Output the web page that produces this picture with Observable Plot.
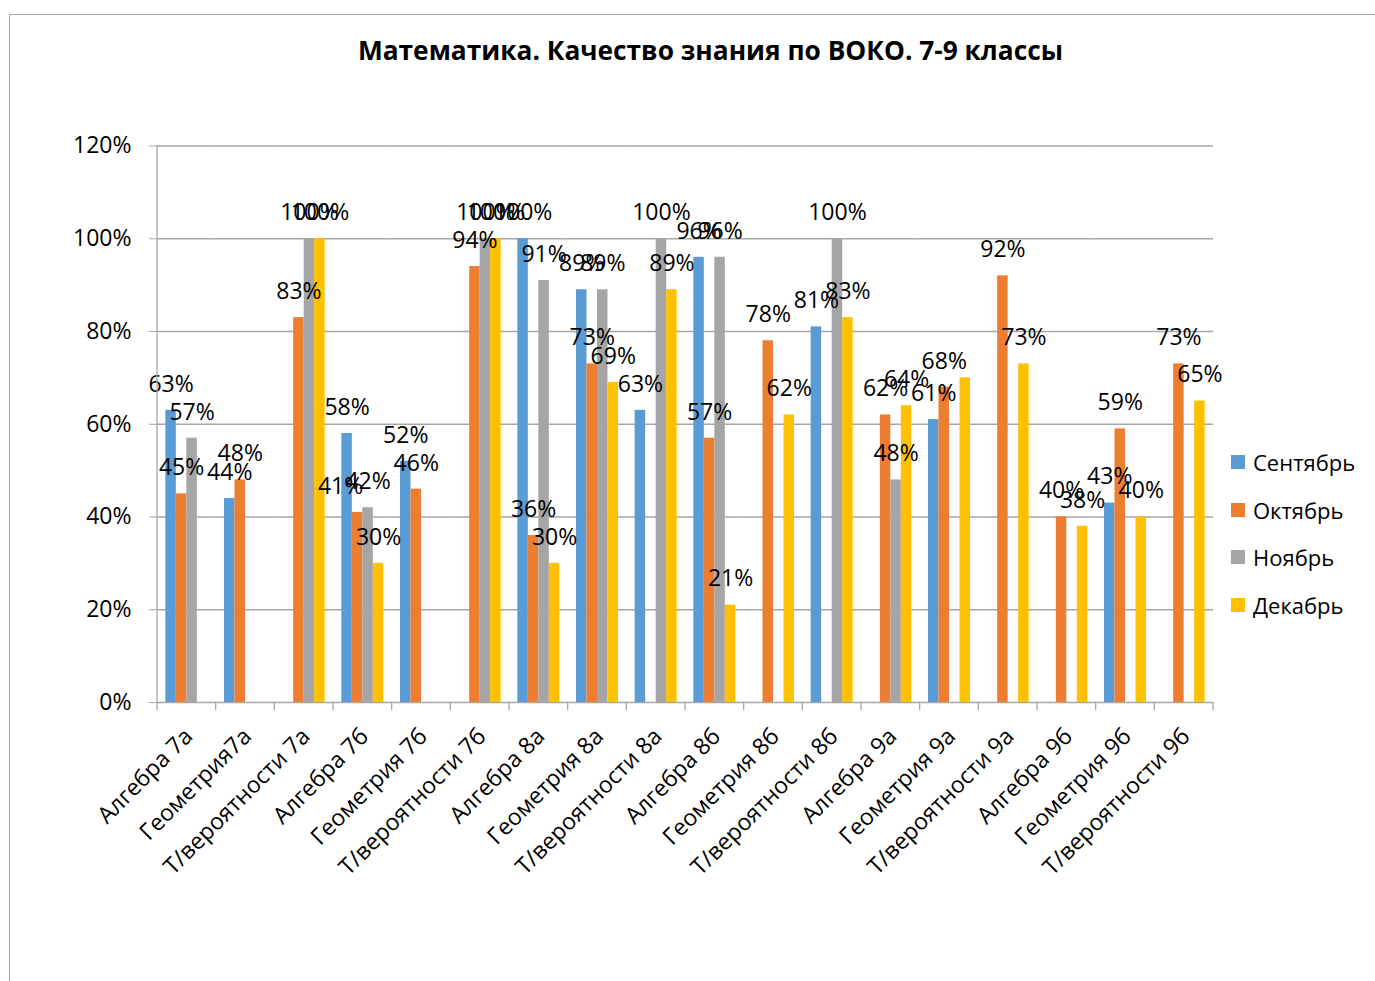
<!DOCTYPE html>
<html><head><meta charset="utf-8">
<script src="https://cdn.jsdelivr.net/npm/d3@7"></script>
<script src="https://cdn.jsdelivr.net/npm/@observablehq/plot@0.6"></script>
<style>
body{margin:0;background:#fff;}
#wrap{position:relative;width:1375px;height:981px;overflow:hidden;font-family:"Open Sans",sans-serif;color:#000;}
#border{position:absolute;left:9px;top:14px;width:1500px;height:1100px;border:1.5px solid #a6a6a6;}
#title{position:absolute;left:0;width:1421px;top:32px;text-align:center;font-weight:bold;font-size:26.3px;line-height:36px;}
#chart{position:absolute;left:0;top:0;}
#legend{position:absolute;left:1231px;top:438px;}
.item{height:47.7px;display:flex;align-items:center;font-size:22px;}
.sw{width:14px;height:14px;margin-right:8px;}
</style></head>
<body><div id="wrap"><div id="border"></div><div id="chart"></div><div id="title"></div><div id="legend"></div></div>
<script>
const titleText = "Математика. Качество знания по ВОКО. 7-9 классы";
const categories = ["Алгебра 7а","Геометрия7а","Т/вероятности 7а","Алгебра 7б","Геометрия 7б","Т/вероятности 7б","Алгебра 8а","Геометрия 8а","Т/вероятности 8а","Алгебра 8б","Геометрия 8б","Т/вероятности 8б","Алгебра 9а","Геометрия 9а","Т/вероятности 9а","Алгебра 9б","Геометрия 9б","Т/вероятности 9б"];
const months = ["Сентябрь","Октябрь","Ноябрь","Декабрь"];
const sep = [0.63,0.44,null,0.58,0.52,null,1.00,0.89,0.63,0.96,null,0.81,null,0.61,null,null,0.43,null];
const oct = [0.45,0.48,0.83,0.41,0.46,0.94,0.36,0.73,null,0.57,0.78,null,0.62,0.68,0.92,0.40,0.59,0.73];
const nov = [0.57,null,1.00,0.42,null,1.00,0.91,0.89,1.00,0.96,null,1.00,0.48,null,null,null,null,null];
const dec = [null,null,1.00,0.30,null,1.00,0.30,0.69,0.89,0.21,0.62,0.83,0.64,0.70,0.73,0.38,0.40,0.65];
const colors = ["#5B9BD5","#ED7D31","#A5A5A5","#FFC000"];
const yTicks = [0,0.2,0.4,0.6,0.8,1.0,1.2];
const hiddenLabels = [["Геометрия 9а","Декабрь"]];
const shiftedLabels = [["Алгебра 7б","Октябрь"]];

const series = [sep, oct, nov, dec];
const rows = [];
categories.forEach((cat, i) => series.forEach((s, j) => {
  if (s[i] != null) rows.push({cat, month: months[j], value: s[i]});
}));
const inList = (list, r) => list.some(([c, m]) => c === r.cat && m === r.month);
const labelRows = rows.filter(r => !inList(hiddenLabels, r) && !inList(shiftedLabels, r));
const shiftedRows = rows.filter(r => inList(shiftedLabels, r));
const pct = d3.format(".0%");

const plot = Plot.plot({
  width: 1375, height: 981,
  marginLeft: 157, marginRight: 162, marginTop: 145.5, marginBottom: 279,
  style: {fontFamily: "'Open Sans', sans-serif", fontSize: "23px", color: "#000", background: "transparent"},
  fx: {domain: categories, padding: 0, round: false, label: null, axis: null},
  x: {domain: months, paddingInner: 0, paddingOuter: 0.794, round: false, axis: null},
  y: {domain: [0, 1.2], axis: null},
  color: {domain: months, range: colors},
  marks: [
    Plot.gridY(yTicks, {stroke: "#a6a6a6", strokeOpacity: 1, strokeWidth: 1.3}),
    Plot.axisY(yTicks, {tickFormat: pct, tickSize: 8, tickPadding: 18, stroke: "#a6a6a6", fontSize: 23, label: null}),
    Plot.barY(rows, {fx: "cat", x: "month", y: "value", fill: "month", inset: 0}),
    Plot.text(labelRows, {fx: "cat", x: "month", y: "value", text: d => pct(d.value), dy: -26, fontSize: 23, fill: "#000"}),
    Plot.text(shiftedRows, {fx: "cat", x: "month", y: "value", text: d => pct(d.value), dy: -26, dx: -17, fontSize: 23, fill: "#000"}),
    Plot.axisFx({anchor: "bottom", tickRotate: -45, tickSize: 0, tickPadding: 30, dx: 2, fontSize: 23, label: null})
  ]
});

// category boundary ticks and y-axis line, positioned through the plot's scales
const fx = plot.scale("fx"), y = plot.scale("y");
const svg = d3.select(plot);
const g = svg.append("g").attr("stroke", "#a6a6a6").attr("stroke-width", 1.3);
const x0 = fx.apply(categories[0]);
const bounds = categories.map(c => fx.apply(c)).concat([fx.apply(categories[categories.length - 1]) + fx.bandwidth]);
bounds.forEach(b => g.append("line").attr("x1", b).attr("x2", b).attr("y1", y.apply(0)).attr("y2", y.apply(0) + 8));
g.append("line").attr("x1", x0).attr("x2", x0).attr("y1", y.apply(1.2)).attr("y2", y.apply(0));

document.getElementById("chart").appendChild(plot);
document.getElementById("title").textContent = titleText;
const legend = document.getElementById("legend");
months.forEach((m, i) => {
  const it = document.createElement("div"); it.className = "item";
  const sw = document.createElement("div"); sw.className = "sw"; sw.style.background = colors[i];
  const t = document.createElement("span"); t.textContent = m;
  it.appendChild(sw); it.appendChild(t); legend.appendChild(it);
});
</script></body></html>
